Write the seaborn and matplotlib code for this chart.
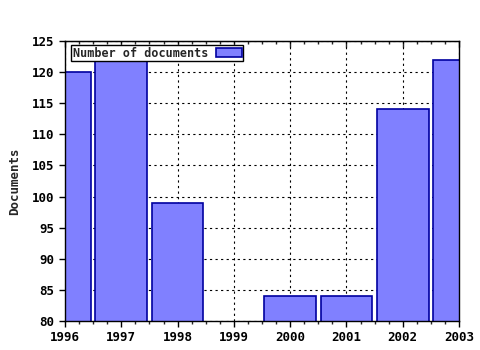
import matplotlib
matplotlib.use("Agg")
import matplotlib.pyplot as plt
import seaborn as sns
import pandas as pd
import numpy as np
from matplotlib.ticker import MultipleLocator

years = [1996, 1997, 1998, 1999, 2000, 2001, 2002, 2003]
documents = [120, 123, 99, np.nan, 84, 84, 114, 122]
series_name = "Number of documents"

df = pd.DataFrame({"Year": years, "Documents": documents, "Series": series_name})

sns.set_style("white")
plt.rcParams['font.family'] = ['DejaVu Sans Mono', 'DejaVu Sans']
plt.rcParams['font.weight'] = 'bold'

fig = plt.figure(figsize=(4.8, 3.5), dpi=100)
ax = fig.add_axes([65/480, 29/350, 394/480, 280/350])

sns.barplot(data=df, x="Year", y="Documents", hue="Series", native_scale=True,
            width=0.92, palette=["#8080ff"], edgecolor="#0000a0", linewidth=1.2,
            saturation=1, ax=ax, zorder=2)

ax.set_xlim(1996, 2003)
ax.set_ylim(80, 125)
ax.set_xticks(years)
ax.set_xticklabels([str(y) for y in years])
ax.set_yticks(list(range(80, 126, 5)))
ax.xaxis.set_minor_locator(MultipleLocator(0.25))
ax.grid(True, which="major", color="black", linestyle=(0, (2, 3)), linewidth=0.8, zorder=1)
ax.set_axisbelow(True)
ax.tick_params(axis="both", which="major", direction="out", length=4, width=1,
               labelsize=9, color="black", labelcolor="black", bottom=True, left=True)
ax.tick_params(axis="x", which="minor", direction="out", length=2, width=1, bottom=True)
sec = ax.secondary_xaxis("top")
sec.set_xticks(years)
sec.xaxis.set_minor_locator(MultipleLocator(0.25))
sec.tick_params(which="major", direction="in", length=4, width=1, labeltop=False)
sec.tick_params(which="minor", direction="in", length=2, width=1)
for lab in ax.get_xticklabels() + ax.get_yticklabels():
    lab.set_fontweight("bold")
for s in ax.spines.values():
    s.set_color("black")
    s.set_linewidth(1)
ax.set_xlabel("")
ax.set_ylabel("Documents", fontsize=9, fontweight="bold", labelpad=8)

leg = ax.legend(loc="upper left", bbox_to_anchor=(0.01, 0.995), markerfirst=False, fancybox=False,
                edgecolor="black", framealpha=1, handlelength=2.2, handleheight=0.7,
                borderpad=0.15, borderaxespad=0.2, handletextpad=0.6, prop={"weight": "bold", "size": 8.5})
leg.get_frame().set_linewidth(1)

fig.savefig("out.png", dpi=100)
